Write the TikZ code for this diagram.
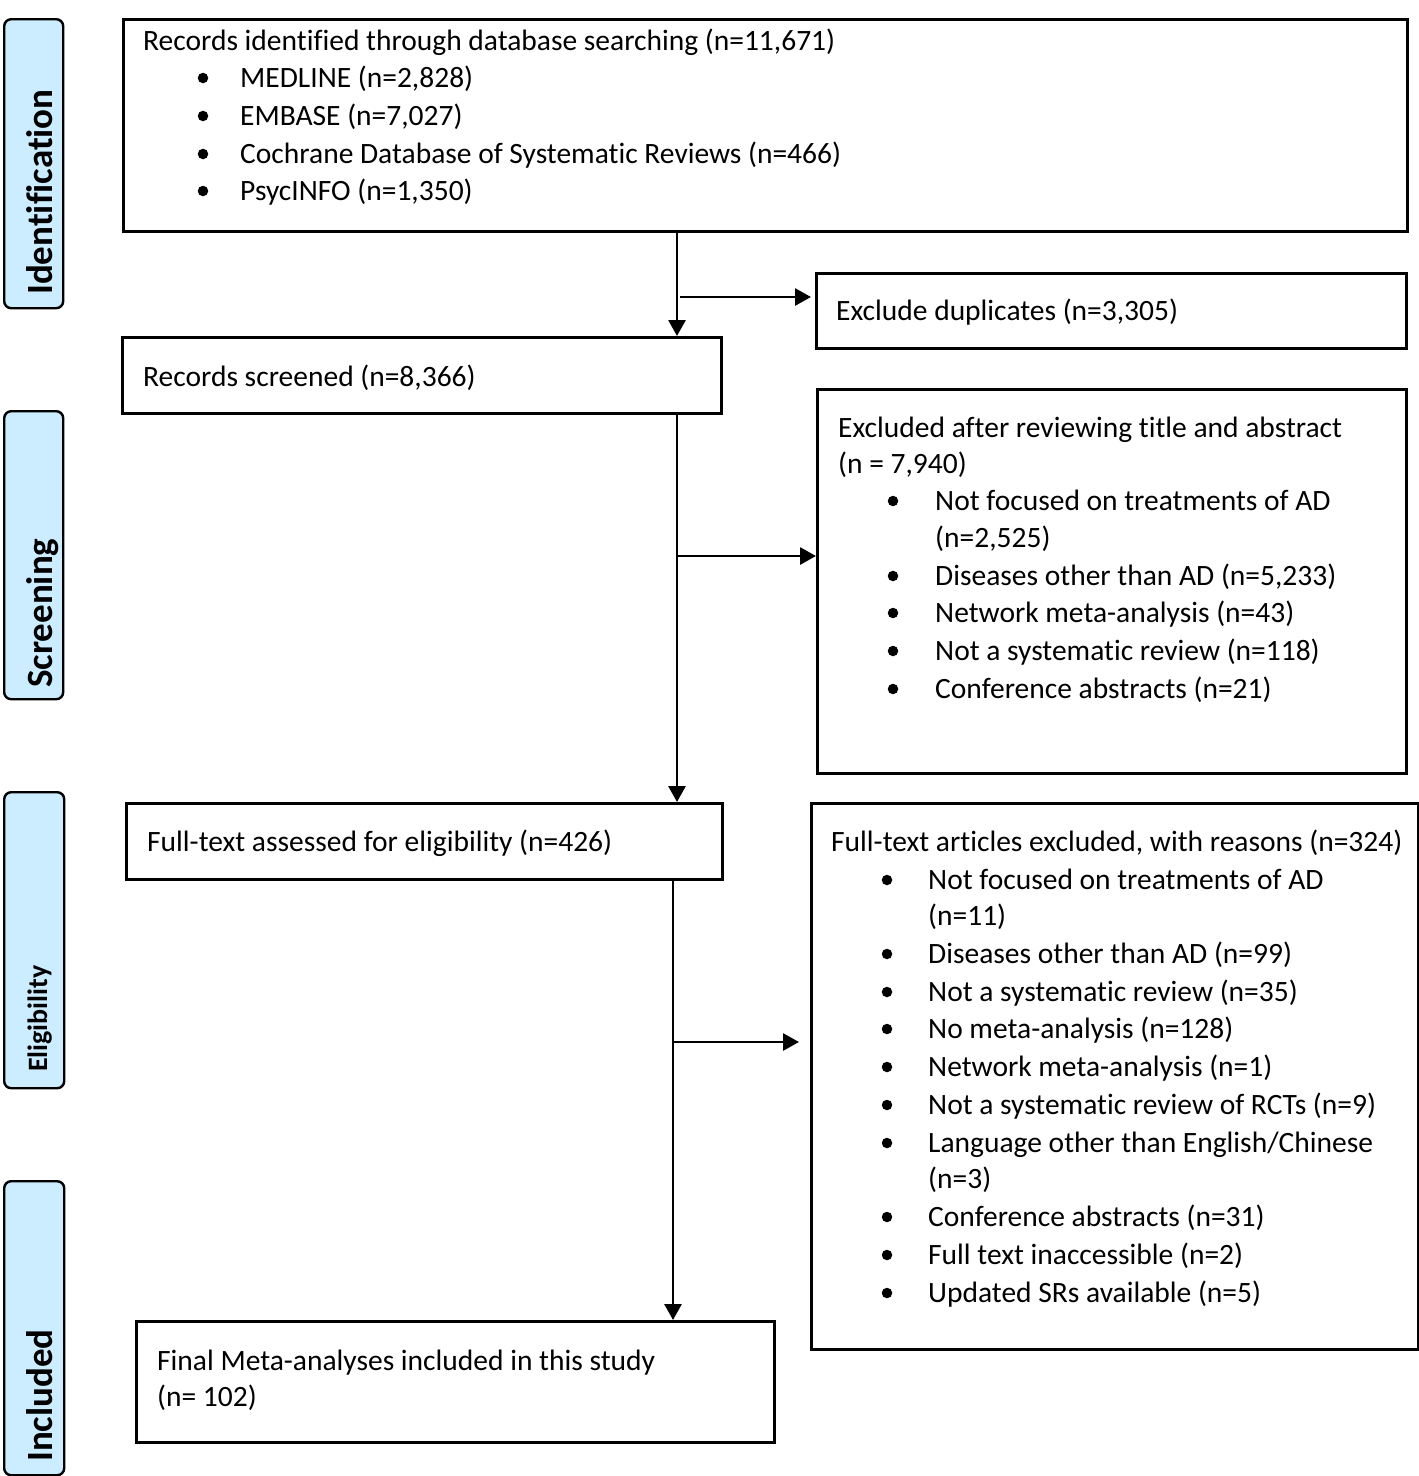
\documentclass[tikz,border=0pt]{standalone}
\usepackage{fontspec}
\setmainfont{Carlito}[Ligatures=NoCommon]
\usetikzlibrary{arrows.meta}
\definecolor{sidefill}{RGB}{204,236,255}
\tikzset{
  box/.style={draw, line width=2.6pt, anchor=north west, inner sep=0pt},
  side/.style={draw, line width=2.4pt, rounded corners=7pt, fill=sidefill, anchor=north west, inner sep=0pt},
  txt/.style={anchor=west, inner sep=0pt, text height=19pt, text depth=0pt, font=\fontsize{29.5}{37.5}\selectfont},
  sidetxt/.style={rotate=90, anchor=base west, inner sep=0pt, font=\fontsize{37}{40}\selectfont\bfseries},
  bul/.style={circle, fill=black, inner sep=0pt, minimum size=10.5pt},
  arr/.style={line width=2.8pt, -{Triangle[length=16pt,width=17pt]}},
}
\begin{document}
\begin{tikzpicture}[x=1pt,y=-1pt]
\useasboundingbox (0,0) rectangle (1419,1476);
% side labels
\node[side, minimum width=59pt, minimum height=289pt] (sI) at (3,18) {};
\node[side, minimum width=59pt, minimum height=288pt] (sS) at (3,410) {};
\node[side, minimum width=60pt, minimum height=296pt] (sE) at (3,791) {};
\node[side, minimum width=60pt, minimum height=294pt] (sN) at (3,1180) {};
\node[sidetxt] (lI) at (52,295) {Identification};
\node[sidetxt] (lS) at (52,688) {Screening};
\node[sidetxt, font=\fontsize{28}{30}\selectfont\bfseries] (lE) at (47,1072) {Eligibility};
\node[sidetxt] (lN) at (52,1462) {Included};
% boxes
\node[box, minimum width=1284pt, minimum height=212pt] (b1) at (122,18) {};
\node[box, minimum width=590pt, minimum height=75pt] (dup) at (815,272) {};
\node[box, minimum width=599pt, minimum height=76pt] (scr) at (121,336) {};
\node[box, minimum width=589pt, minimum height=384pt] (exA) at (816,388) {};
\node[box, minimum width=596pt, minimum height=76pt] (ft) at (125,802) {};
\node[box, minimum width=607pt, minimum height=546pt] (exB) at (810,802) {};
\node[box, minimum width=638pt, minimum height=121pt] (fin) at (135,1320) {};
% box 1 text
\node[txt] (t1) at (143,41) {Records identified through database searching (n=11,671)};
\node[bul] (u11) at (203,78) {};
\node[txt] (t11) at (240,78) {MEDLINE (n=2,828)};
\node[bul] (u12) at (203,116) {};
\node[txt] (t12) at (240,116) {EMBASE (n=7,027)};
\node[bul] (u13) at (203,154) {};
\node[txt] (t13) at (240,154) {Cochrane Database of Systematic Reviews (n=466)};
\node[bul] (u14) at (203,191) {};
\node[txt] (t14) at (240,191) {PsycINFO (n=1,350)};
% duplicates
\node[txt] (td) at (836,311) {Exclude duplicates (n=3,305)};
% screened
\node[txt] (ts) at (143,377) {Records screened (n=8,366)};
% excluded A
\node[txt] (ta) at (838,428) {Excluded after reviewing title and abstract};
\node[txt] (ta0) at (838,464) {(n = 7,940)};
\node[bul] (ua1) at (893,501) {};
\node[txt] (ta1) at (935,501) {Not focused on treatments of AD};
\node[txt] (ta1b) at (935,538) {(n=2,525)};
\node[bul] (ua2) at (893,576) {};
\node[txt] (ta2) at (935,576) {Diseases other than AD (n=5,233)};
\node[bul] (ua3) at (893,613) {};
\node[txt] (ta3) at (935,613) {Network meta-analysis (n=43)};
\node[bul] (ua4) at (893,651) {};
\node[txt] (ta4) at (935,651) {Not a systematic review (n=118)};
\node[bul] (ua5) at (893,689) {};
\node[txt] (ta5) at (935,689) {Conference abstracts (n=21)};
% full text
\node[txt] (tf) at (147,842) {Full-text assessed for eligibility (n=426)};
% excluded B
\node[txt] (tb) at (831,842) {Full-text articles excluded, with reasons (n=324)};
\node[bul] (ub1) at (887,880) {};
\node[txt] (tb1) at (928,880) {Not focused on treatments of AD};
\node[txt] (tb1b) at (928,916) {(n=11)};
\node[bul] (ub2) at (887,954) {};
\node[txt] (tb2) at (928,954) {Diseases other than AD (n=99)};
\node[bul] (ub3) at (887,992) {};
\node[txt] (tb3) at (928,992) {Not a systematic review (n=35)};
\node[bul] (ub4) at (887,1029) {};
\node[txt] (tb4) at (928,1029) {No meta-analysis (n=128)};
\node[bul] (ub5) at (887,1067) {};
\node[txt] (tb5) at (928,1067) {Network meta-analysis (n=1)};
\node[bul] (ub6) at (887,1105) {};
\node[txt] (tb6) at (928,1105) {Not a systematic review of RCTs (n=9)};
\node[bul] (ub7) at (887,1143) {};
\node[txt] (tb7) at (928,1143) {Language other than English/Chinese};
\node[txt] (tb7b) at (928,1179) {(n=3)};
\node[bul] (ub8) at (887,1217) {};
\node[txt] (tb8) at (928,1217) {Conference abstracts (n=31)};
\node[bul] (ub9) at (887,1255) {};
\node[txt] (tb9) at (928,1255) {Full text inaccessible (n=2)};
\node[bul] (ub10) at (887,1293) {};
\node[txt] (tb10) at (928,1293) {Updated SRs available (n=5)};
% final
\node[txt] (tn) at (157,1361) {Final Meta-analyses included in this study};
\node[txt] (tn2) at (157,1397) {(n= 102)};
% connectors
\coordinate (x1) at (677,0);
\coordinate (x3) at (673,0);
\coordinate (j1) at (680,297);
\coordinate (j2) at (677,556);
\coordinate (j3) at (673,1042);
\draw[arr] (b1.south -| x1) -- (scr.north -| x1);
\draw[arr, shorten >=4pt] (j1) -- (j1 -| dup.west);
\draw[arr] (scr.south -| x1) -- (ft.north -| x1);
\draw[arr] (j2) -- (j2 -| exA.west);
\draw[arr] (ft.south -| x3) -- (fin.north -| x3);
\draw[arr, shorten >=11pt] (j3) -- (j3 -| exB.west);
\end{tikzpicture}
\end{document}
